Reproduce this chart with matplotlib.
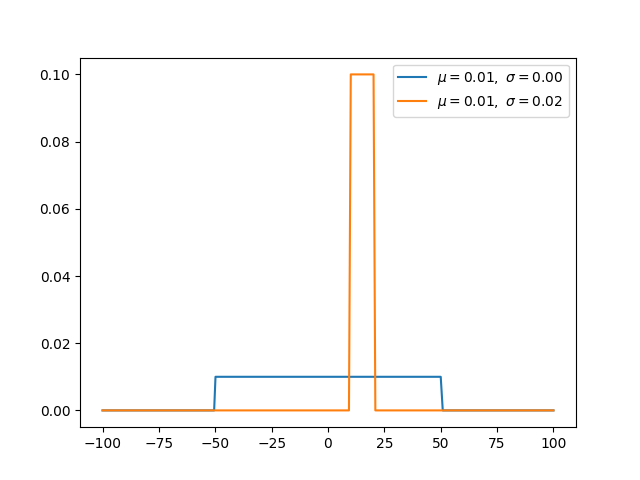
import matplotlib
matplotlib.use("Agg")
import matplotlib.pyplot as plt

blue_x = [-100, -50.5, -49.9, 50.0, 50.9, 100]
blue_y = [0.0, 0.0, 0.01, 0.01, 0.0, 0.0]
orange_x = [-100, 9.3, 10.1, 20.2, 21.0, 100]
orange_y = [0.0, 0.0, 0.1, 0.1, 0.0, 0.0]
labels = [r"$\mu = 0.01,\ \sigma = 0.00$", r"$\mu = 0.01,\ \sigma = 0.02$"]

fig, ax = plt.subplots(figsize=(6.4, 4.8), dpi=100)
ax.plot(blue_x, blue_y, label=labels[0])
ax.plot(orange_x, orange_y, label=labels[1])
ax.legend(loc="upper right")
fig.savefig("out.png")
